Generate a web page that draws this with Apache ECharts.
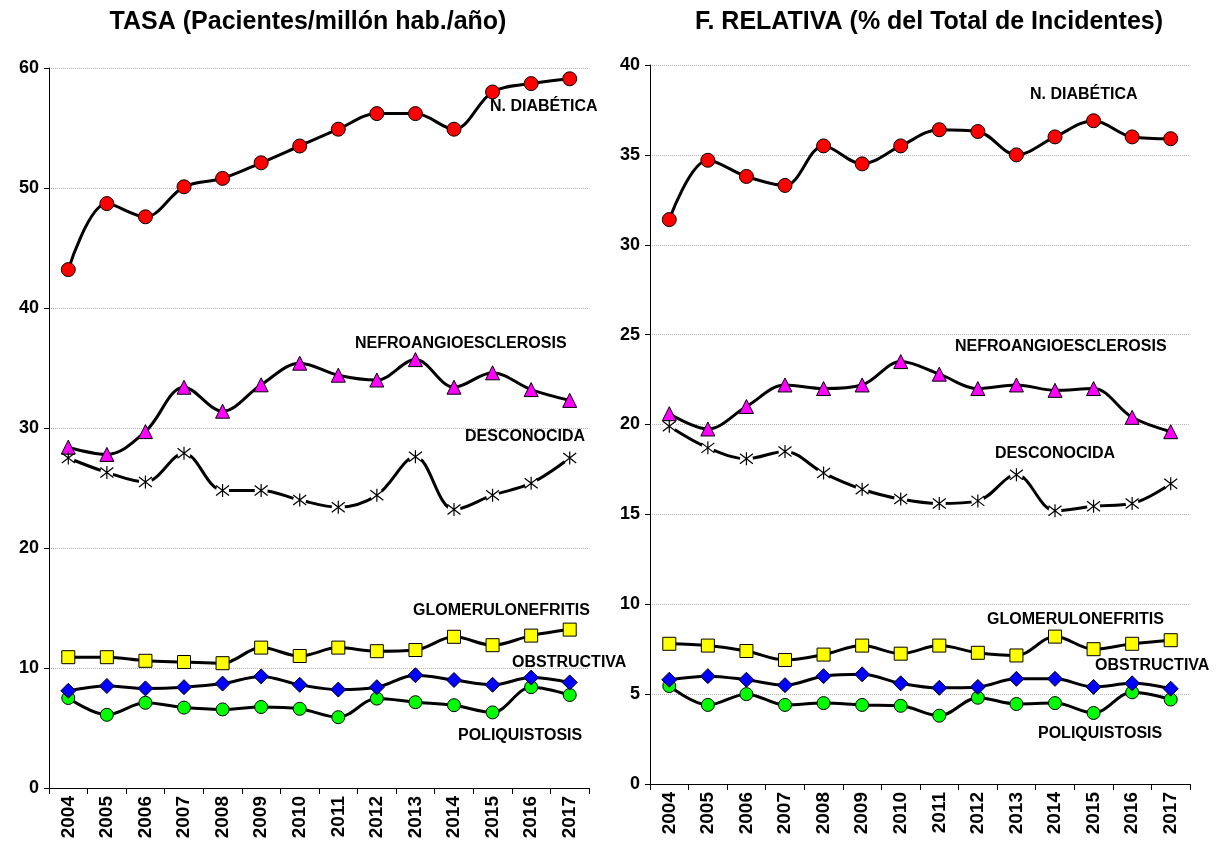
<!DOCTYPE html>
<html>
<head>
<meta charset="utf-8">
<title>Incidencia por etiología</title>
<script src="https://cdn.jsdelivr.net/npm/echarts@6/dist/echarts.min.js"></script>
<style>
    html, body { margin: 0; padding: 0; background: #fff; }
    #main { width: 1220px; height: 844px; }
</style>
</head>
<body>
<div id="main"></div>
<script>
// Años (eje X)
var years = ['2004', '2005', '2006', '2007', '2008', '2009', '2010', '2011', '2012', '2013', '2014', '2015', '2016', '2017'];

// Tasa (pacientes/millón hab./año)
var tasaDiabetica = [43.2, 48.7, 47.6, 50.1, 50.8, 52.1, 53.5, 54.9, 56.2, 56.2, 54.9, 58.0, 58.7, 59.1];
var tasaNefro = [28.4, 27.8, 29.7, 33.4, 31.4, 33.6, 35.4, 34.4, 34.0, 35.7, 33.4, 34.6, 33.2, 32.3];
var tasaDesconocida = [27.5, 26.3, 25.5, 27.9, 24.8, 24.8, 24.0, 23.4, 24.4, 27.6, 23.2, 24.4, 25.4, 27.5];
var tasaGlomerulo = [10.9, 10.9, 10.6, 10.5, 10.4, 11.7, 11.0, 11.7, 11.4, 11.5, 12.6, 11.9, 12.7, 13.2];
var tasaObstructiva = [8.1, 8.5, 8.3, 8.4, 8.7, 9.3, 8.6, 8.2, 8.4, 9.4, 9.0, 8.6, 9.2, 8.8];
var tasaPoliquistosis = [7.5, 6.1, 7.1, 6.7, 6.55, 6.75, 6.6, 5.9, 7.45, 7.15, 6.9, 6.3, 8.4, 7.75];

// Frecuencia relativa (% del total de incidentes)
var relDiabetica = [31.4, 34.7, 33.8, 33.3, 35.5, 34.5, 35.5, 36.4, 36.3, 35.0, 36.0, 36.9, 36.0, 35.9];
var relNefro = [20.6, 19.75, 21.0, 22.2, 22.0, 22.2, 23.5, 22.8, 22.0, 22.2, 21.9, 22.0, 20.4, 19.6];
var relDesconocida = [19.9, 18.7, 18.1, 18.5, 17.3, 16.4, 15.85, 15.6, 15.75, 17.2, 15.2, 15.45, 15.6, 16.7];
var relGlomerulo = [7.8, 7.7, 7.4, 6.9, 7.2, 7.7, 7.25, 7.7, 7.3, 7.15, 8.2, 7.5, 7.8, 8.0];
var relObstructiva = [5.8, 6.0, 5.8, 5.5, 6.0, 6.1, 5.6, 5.35, 5.4, 5.85, 5.85, 5.4, 5.6, 5.3];
var relPoliquistosis = [5.45, 4.4, 5.0, 4.4, 4.5, 4.4, 4.35, 3.8, 4.8, 4.45, 4.5, 3.95, 5.1, 4.7];

// Nombres de las etiologías
var names = ['N. DIABÉTICA', 'NEFROANGIOESCLEROSIS', 'DESCONOCIDA', 'GLOMERULONEFRITIS', 'OBSTRUCTIVA', 'POLIQUISTOSIS'];

var FONT = '"Liberation Sans", Arial, sans-serif';

// asterisco (solo trazo)
var asterisk = 'path://M0,0L10,10M10,0L0,10M5,-1.5L5,11.5';

// estilo de marcador de cada serie
var markers = [
    { symbol: 'circle', size: 14, color: '#ff0000' },
    { symbol: 'triangle', size: 14, color: '#ff00ff' },
    { symbol: 'circle', size: 13, color: '#ffffff' },   // fondo blanco del asterisco
    { symbol: 'rect', size: 13, color: '#ffff00' },
    { symbol: 'diamond', size: 15, color: '#0000ff' },
    { symbol: 'circle', size: 13, color: '#00ff00' }
];

function makeSeries(data, idx, axisIndex) {
    var m = markers[idx];
    return {
        name: names[idx],
        type: 'line',
        xAxisIndex: axisIndex,
        yAxisIndex: axisIndex,
        data: data,
        smooth: 0.35,
        symbol: m.symbol,
        symbolSize: m.size,
        showAllSymbol: true,
        z: 10 - idx,
        lineStyle: { color: '#000', width: 3 },
        itemStyle: {
            color: m.color,
            borderColor: idx === 2 ? '#fff' : '#000',
            borderWidth: idx === 2 ? 0 : 1
        }
    };
}

// asteriscos encima del fondo blanco (serie DESCONOCIDA)
function starSeries(data, axisIndex) {
    return {
        name: names[2] + ' *',
        type: 'line',
        xAxisIndex: axisIndex,
        yAxisIndex: axisIndex,
        data: data,
        symbol: asterisk,
        symbolSize: 13,
        showAllSymbol: true,
        z: 9,
        lineStyle: { width: 0, opacity: 0 },
        itemStyle: { color: 'transparent', borderColor: '#000', borderWidth: 1.2 }
    };
}

function xAxis(gridIndex) {
    return {
        type: 'category',
        gridIndex: gridIndex,
        data: years,
        boundaryGap: true,
        axisLine: { lineStyle: { color: '#000', width: 1 } },
        axisTick: { show: true, length: 6, lineStyle: { color: '#000' } },
        axisLabel: {
            rotate: 90,
            color: '#000',
            fontFamily: FONT,
            fontWeight: 'bold',
            fontSize: 19,
            margin: 8
        }
    };
}

function yAxis(gridIndex, max, interval) {
    return {
        type: 'value',
        gridIndex: gridIndex,
        min: 0,
        max: max,
        interval: interval,
        axisLine: { show: true, lineStyle: { color: '#000', width: 1 } },
        axisTick: { show: true, length: 5, lineStyle: { color: '#000' } },
        axisLabel: {
            color: '#000',
            fontFamily: FONT,
            fontWeight: 'bold',
            fontSize: 18,
            margin: 10
        },
        splitLine: { lineStyle: { color: '#b0b0b0', type: [1, 1], width: 1 } }
    };
}

// etiquetas de texto de cada serie
function label(text, x, y) {
    return {
        type: 'text',
        left: x,
        top: y,
        z: 100,
        style: {
            text: text,
            fill: '#000',
            font: 'bold 16px ' + FONT
        }
    };
}

document.addEventListener('DOMContentLoaded', function () {

    var chart = echarts.init(document.getElementById('main'));

    var option = {
        animation: false,
        backgroundColor: '#fff',
        title: [
            {
                text: 'TASA (Pacientes/millón hab./año)',
                left: 303,
                top: 5,
                textAlign: 'center',
                textStyle: { fontFamily: FONT, fontWeight: 'bold', fontSize: 25, color: '#000' }
            },
            {
                text: 'F. RELATIVA (% del Total de Incidentes)',
                left: 924,
                top: 5,
                textAlign: 'center',
                textStyle: { fontFamily: FONT, fontWeight: 'bold', fontSize: 25, color: '#000' }
            }
        ],
        grid: [
            { left: 49, right: 631, top: 68, bottom: 56 },
            { left: 650, right: 30, top: 65, bottom: 60 }
        ],
        xAxis: [xAxis(0), xAxis(1)],
        yAxis: [yAxis(0, 60, 10), yAxis(1, 40, 5)],
        series: [
            makeSeries(tasaDiabetica, 0, 0),
            makeSeries(tasaNefro, 1, 0),
            makeSeries(tasaDesconocida, 2, 0),
            starSeries(tasaDesconocida, 0),
            makeSeries(tasaGlomerulo, 3, 0),
            makeSeries(tasaObstructiva, 4, 0),
            makeSeries(tasaPoliquistosis, 5, 0),
            makeSeries(relDiabetica, 0, 1),
            makeSeries(relNefro, 1, 1),
            makeSeries(relDesconocida, 2, 1),
            starSeries(relDesconocida, 1),
            makeSeries(relGlomerulo, 3, 1),
            makeSeries(relObstructiva, 4, 1),
            makeSeries(relPoliquistosis, 5, 1)
        ],
        graphic: [
            // gráfico izquierdo
            label(names[0], 490, 99),
            label(names[1], 355, 336),
            label(names[2], 465, 429),
            label(names[3], 413, 603),
            label(names[4], 512, 655),
            label(names[5], 458, 728),
            // gráfico derecho
            label(names[0], 1030, 87),
            label(names[1], 955, 339),
            label(names[2], 995, 446),
            label(names[3], 987, 612),
            label(names[4], 1095, 658),
            label(names[5], 1038, 726)
        ]
    };

    chart.setOption(option);
});
</script>
</body>
</html>
